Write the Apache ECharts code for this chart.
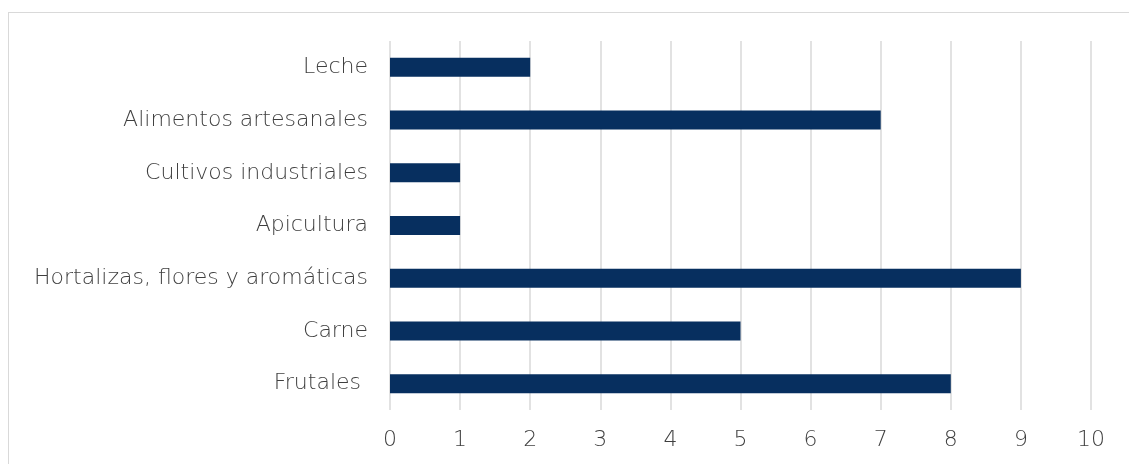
<!DOCTYPE html>
<html>
<head>
<meta charset="utf-8">
<script src="https://cdn.jsdelivr.net/npm/echarts@6/dist/echarts.min.js"></script>
<style>
  html, body { margin: 0; padding: 0; background: #fff; }
  #chart { width: 1129px; height: 464px; position: relative; }
  .frame {
    position: absolute; left: 8px; top: 12px; right: -2px; bottom: -2px;
    border-left: 1.5px solid #d9d9d9; border-top: 1.5px solid #d9d9d9;
    pointer-events: none;
  }
</style>
</head>
<body>
<div id="chart"></div>
<div class="frame"></div>
<script>
// categories listed bottom to top
const categories = ['Frutales ', 'Carne', 'Hortalizas, flores y aromáticas', 'Apicultura', 'Cultivos industriales', 'Alimentos artesanales', 'Leche']
const values = [8, 5, 9, 1, 1, 7, 2]
const axisMax = 10

const chart = echarts.init(document.getElementById('chart'))
chart.setOption({
  animation: false,
  textStyle: { fontFamily: '"DejaVu Sans", sans-serif' },
  grid: { left: 390, right: 38, top: 41, bottom: 54 },
  xAxis: {
    type: 'value',
    min: 0,
    max: axisMax,
    interval: 1,
    axisLine: { show: false },
    axisTick: { show: false },
    splitLine: { lineStyle: { color: '#d9d9d9', width: 1.5 } },
    axisLabel: { color: '#3f3f3f', fontSize: 22, fontWeight: 300, margin: 19 }
  },
  yAxis: {
    type: 'category',
    data: categories,
    axisLine: { show: false },
    axisTick: { show: false },
    axisLabel: { color: '#3f3f3f', fontSize: 22, fontWeight: 300, margin: 22 }
  },
  series: [{
    type: 'bar',
    data: values,
    barWidth: '36%',
    itemStyle: { color: '#072f5f' }
  }]
})
</script>
</body>
</html>
